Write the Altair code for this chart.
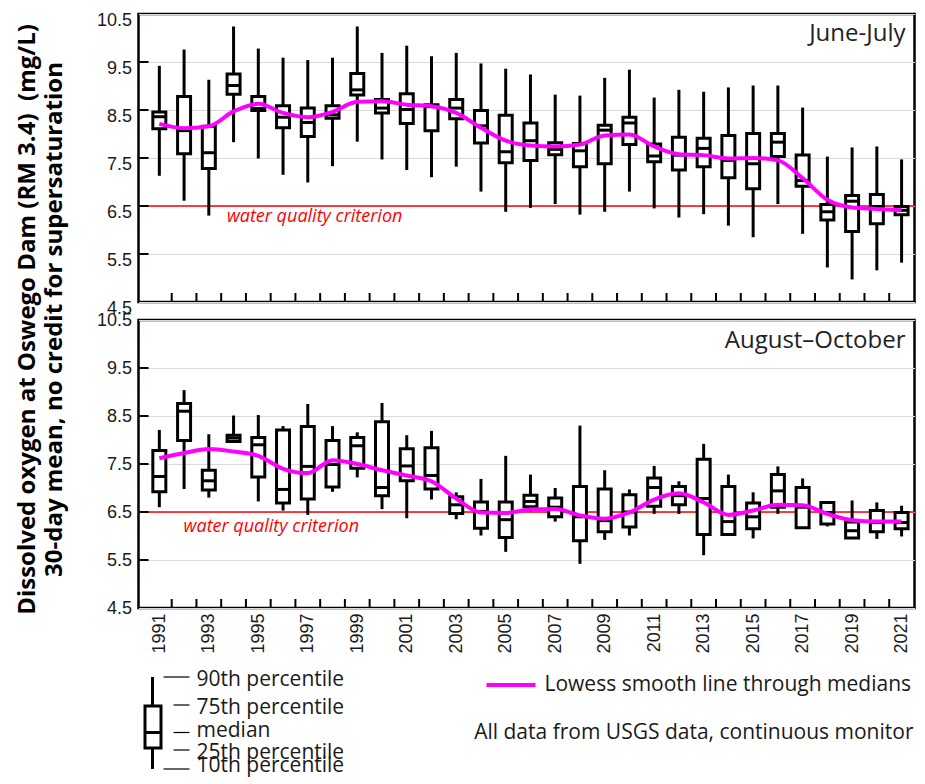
import altair as alt
import pandas as pd

years = list(range(1991, 2022))

# June-July percentiles (mg/L)
jj_p90 = [9.42, 9.76, 9.13, 10.24, 9.78, 9.59, 9.54, 9.59, 10.24, 9.69, 9.84, 9.62, 9.69, 9.47, 9.36, 9.24,
          8.82, 8.80, 9.17, 9.34, 8.76, 8.92, 8.88, 8.97, 9.01, 9.01, 8.55, 7.53, 7.72, 7.74, 7.47]
jj_p75 = [8.46, 8.78, 8.16, 9.25, 8.78, 8.59, 8.54, 8.59, 9.26, 8.72, 8.84, 8.61, 8.72, 8.49, 8.39, 8.23,
          7.82, 7.80, 8.18, 8.35, 7.79, 7.93, 7.91, 7.97, 8.01, 8.01, 7.56, 6.53, 6.72, 6.74, 6.49]
jj_med = [8.36, 8.07, 7.61, 9.01, 8.53, 8.35, 8.24, 8.40, 8.92, 8.54, 8.51, 8.57, 8.54, 8.17, 7.63, 7.86,
          7.68, 7.65, 8.08, 8.23, 7.54, 7.56, 7.70, 7.45, 7.38, 7.83, 7.03, 6.38, 6.60, 6.49, 6.41]
jj_p25 = [8.11, 7.59, 7.28, 8.83, 8.49, 8.13, 7.95, 8.33, 8.81, 8.44, 8.22, 8.07, 8.32, 7.81, 7.40, 7.45,
          7.57, 7.32, 7.38, 7.78, 7.42, 7.25, 7.32, 7.09, 6.86, 7.53, 6.91, 6.21, 5.97, 6.13, 6.32]
jj_p10 = [7.13, 6.61, 6.30, 7.83, 7.49, 7.15, 6.99, 7.33, 7.84, 7.47, 7.25, 7.10, 7.32, 6.80, 6.38, 6.46,
          6.54, 6.32, 6.38, 6.80, 6.45, 6.26, 6.33, 6.09, 5.85, 6.54, 5.92, 5.22, 4.97, 5.16, 5.32]
jj_lowess = [8.21, 8.12, 8.16, 8.47, 8.63, 8.44, 8.35, 8.46, 8.67, 8.68, 8.61, 8.58, 8.44, 8.13, 7.86, 7.76,
             7.74, 7.78, 7.97, 7.99, 7.74, 7.58, 7.56, 7.49, 7.50, 7.45, 7.08, 6.63, 6.47, 6.44, 6.41]

# August-October percentiles (mg/L)
ao_p90 = [8.21, 9.04, 8.12, 8.51, 8.52, 8.29, 8.75, 8.29, 8.16, 8.77, 8.10, 8.19, 6.91, 7.19, 7.67, 7.28,
          7.00, 8.30, 7.37, 6.97, 7.46, 7.14, 7.92, 7.28, 6.91, 7.45, 7.20, 6.70, 6.74, 6.70, 6.63]
ao_p75 = [7.78, 8.76, 7.37, 8.10, 8.05, 8.21, 8.28, 7.99, 8.05, 8.38, 7.82, 7.84, 6.82, 6.71, 6.71, 6.85,
          6.79, 7.03, 6.98, 6.86, 7.21, 7.03, 7.60, 7.03, 6.69, 7.28, 7.01, 6.70, 6.29, 6.53, 6.49]
ao_med = [7.24, 8.60, 7.15, 8.04, 7.90, 6.97, 7.45, 7.49, 7.88, 7.01, 7.46, 7.26, 6.65, 6.51, 6.34, 6.72,
          6.60, 6.40, 6.32, 6.50, 7.01, 6.84, 6.78, 6.30, 6.40, 6.94, 6.60, 6.49, 6.11, 6.28, 6.28]
ao_p25 = [6.92, 7.99, 6.96, 7.97, 7.23, 6.69, 6.77, 7.02, 7.41, 6.84, 7.15, 6.98, 6.47, 6.16, 5.97, 6.61,
          6.40, 5.90, 6.09, 6.19, 6.62, 6.65, 6.03, 6.03, 6.15, 6.60, 6.17, 6.25, 5.96, 6.09, 6.15]
ao_p10 = [6.60, 6.98, 6.80, 7.94, 6.72, 6.53, 6.44, 6.92, 7.22, 6.56, 6.37, 6.76, 6.35, 6.01, 5.67, 6.51,
          6.30, 5.42, 5.92, 6.01, 6.46, 6.46, 5.60, 6.00, 5.95, 6.46, 6.15, 6.20, 5.95, 5.94, 5.99]
ao_lowess = [7.62, 7.73, 7.81, 7.76, 7.67, 7.40, 7.31, 7.58, 7.50, 7.37, 7.26, 7.14, 6.78, 6.49, 6.48, 6.55,
             6.56, 6.43, 6.36, 6.49, 6.76, 6.89, 6.70, 6.44, 6.53, 6.65, 6.64, 6.46, 6.33, 6.30, 6.30]

y_tick_values = [4.5, 5.5, 6.5, 7.5, 8.5, 9.5, 10.5]
x_label_years = list(range(1991, 2022, 2))
x_tick_marks = [y + 0.5 for y in range(1991, 2021)]
criterion = 6.5

title_lines = ["Dissolved oxygen at Oswego Dam (RM 3.4)\u00a0 (mg/L)",
               "30-day mean, no credit for supersaturation"]
legend_box_labels = ["90th percentile", "75th percentile", "median", "25th percentile", "10th percentile"]

W, H = 776, 288
XDOM = [1990.36, 2021.32]
YDOM = [4.5, 10.5]
LABEL_FONT = "Liberation Sans"
TEXT_FONT = "Open Sans"
TXT = "#1a1a1a"

one_row = pd.DataFrame({"k": [0]})
xt_df = pd.DataFrame({"x": x_tick_marks})
yt_df = pd.DataFrame({"y": y_tick_values[1:-1]})


def make_panel(p10, p25, med, p75, p90, low, label, label_y, crit_x, crit_y, bottom):
    df = pd.DataFrame({"year": years, "p10": p10, "p25": p25, "med": med,
                       "p75": p75, "p90": p90, "low": low})
    xs = alt.Scale(domain=XDOM, nice=False, zero=False)
    ys = alt.Scale(domain=YDOM, nice=False, zero=False)
    if bottom:
        x_axis = alt.Axis(values=x_label_years, format="d", labelAngle=270, ticks=False, domain=False,
                          grid=False, title=None, labelFont=LABEL_FONT, labelFontSize=18,
                          labelColor=TXT, labelPadding=5, labelAlign="right", labelBaseline="middle")
        y_axis = alt.Axis(values=y_tick_values, format=".1f", ticks=False, domain=False, grid=True,
                          gridColor="#d9d9d9", gridWidth=1, title=None, labelFont=LABEL_FONT,
                          labelFontSize=18, labelColor=TXT, labelPadding=7)
    else:
        x_axis = None
        y_axis = alt.Axis(values=y_tick_values, format=".1f", ticks=False, domain=False, grid=True,
                          gridColor="#d9d9d9", gridWidth=1, title=title_lines,
                          titleFont=TEXT_FONT, titleFontSize=24, titleFontWeight="bold",
                          titleColor="#000000", titleAngle=270, titleLineHeight=27,
                          titleAlign="center", titleBaseline="middle",
                          titleX=-111.5, titleY=305, labelFont=LABEL_FONT, labelOffset=-3,
                          labelBaseline="top", labelFontSize=18, labelColor=TXT, labelPadding=7)

    base = alt.Chart(df)
    X = alt.X("year:Q", scale=xs, axis=x_axis)
    crit = alt.Chart(one_row).mark_rule(color="#ff0000", strokeWidth=1.3).encode(
        y=alt.Y("c:Q", scale=ys, axis=y_axis)).transform_calculate(c=str(criterion))
    whisk = base.mark_rule(color="black", strokeWidth=3).encode(
        x=X, y=alt.Y("p10:Q", scale=ys, axis=y_axis), y2="p90:Q")
    box = base.mark_bar(size=13, fill="white", stroke="black", strokeWidth=3).encode(
        x=X, y=alt.Y("p25:Q", scale=ys, axis=y_axis), y2="p75:Q")
    medm = base.mark_tick(size=14, thickness=3, color="black", orient="horizontal", opacity=1).encode(
        x=X, y=alt.Y("med:Q", scale=ys, axis=y_axis))
    lowl = base.mark_line(color="#ff00ff", strokeWidth=4, interpolate="monotone").encode(
        x=X, y=alt.Y("low:Q", scale=ys, axis=y_axis))
    xt = alt.Chart(xt_df).mark_rule(color="black", strokeWidth=2).encode(
        x=alt.X("x:Q", scale=xs, axis=x_axis), y=alt.value(H), y2=alt.value(H - 9))
    yt = alt.Chart(yt_df).mark_rule(color="black", strokeWidth=2).encode(
        y=alt.Y("y:Q", scale=ys, axis=y_axis), x=alt.value(0), x2=alt.value(10))
    lab = alt.Chart(one_row).mark_text(font=TEXT_FONT, fontSize=24, color="#222222", align="right",
                                       baseline="alphabetic").encode(
        x=alt.value(767), y=alt.value(label_y), text=alt.value(label))
    crit_txt = alt.Chart(one_row).mark_text(font=TEXT_FONT, fontSize=18, fontStyle="italic",
                                            color="#ff0000", align="left", baseline="alphabetic").encode(
        x=alt.datum(crit_x, scale=xs), y=alt.datum(crit_y, scale=ys),
        text=alt.value("water quality criterion"))
    layers = [crit, whisk, box, medm, lowl, xt, yt, lab, crit_txt]

    if bottom:
        # explanatory key beneath the lower panel (pixel offsets from the panel origin)
        k = alt.Chart(one_row)
        layers.append(k.mark_rule(color="black", strokeWidth=3).encode(
            x=alt.value(14), y=alt.value(357), y2=alt.value(449)))
        layers.append(k.mark_rect(fill="white", stroke="black", strokeWidth=3).encode(
            x=alt.value(6.5), x2=alt.value(22.5), y=alt.value(386), y2=alt.value(428)))
        layers.append(k.mark_rule(color="black", strokeWidth=3).encode(
            x=alt.value(6.5), x2=alt.value(22.5), y=alt.value(412.5)))
        leader = [(25, 357), (35, 385), (35, 412.5), (35, 430), (25, 449)]
        text_y = [359.5, 387.5, 411, 432.5, 446]
        for (lx, ly), ty, t in zip(leader, text_y, legend_box_labels):
            layers.append(k.mark_rule(color="black", strokeWidth=1.2).encode(
                x=alt.value(lx), x2=alt.value(51), y=alt.value(ly)))
            layers.append(k.mark_text(font=TEXT_FONT, fontSize=21, color=TXT, align="left",
                                      baseline="middle").encode(
                x=alt.value(58), y=alt.value(ty), text=alt.value(t)))
        layers.append(k.mark_rule(color="#ff00ff", strokeWidth=4).encode(
            x=alt.value(348), x2=alt.value(397), y=alt.value(365)))
        layers.append(k.mark_text(font=TEXT_FONT, fontSize=21, color=TXT, align="left",
                                  baseline="middle").encode(
            x=alt.value(406), y=alt.value(365), text=alt.value("Lowess smooth line through medians")))
        layers.append(k.mark_text(font=TEXT_FONT, fontSize=21, color=TXT, align="right",
                                  baseline="middle").encode(
            x=alt.value(775), y=alt.value(413),
            text=alt.value("All data from USGS data, continuous monitor")))

    return alt.layer(*layers).properties(width=W, height=H)


top = make_panel(jj_p10, jj_p25, jj_med, jj_p75, jj_p90, jj_lowess, "June-July", 27,
                 1993.73, 6.17, False)
bot = make_panel(ao_p10, ao_p25, ao_med, ao_p75, ao_p90, ao_lowess, "August\u2013October", 28,
                 1991.98, 6.075, True)

chart = alt.vconcat(top, bot, spacing=18, bounds="flush").properties(
    padding={"left": 5.5, "top": 1, "right": 0, "bottom": 0}
).configure_view(stroke="black", strokeWidth=2.5)

chart.save("out.html", embed_options={"renderer": "svg", "actions": False})
